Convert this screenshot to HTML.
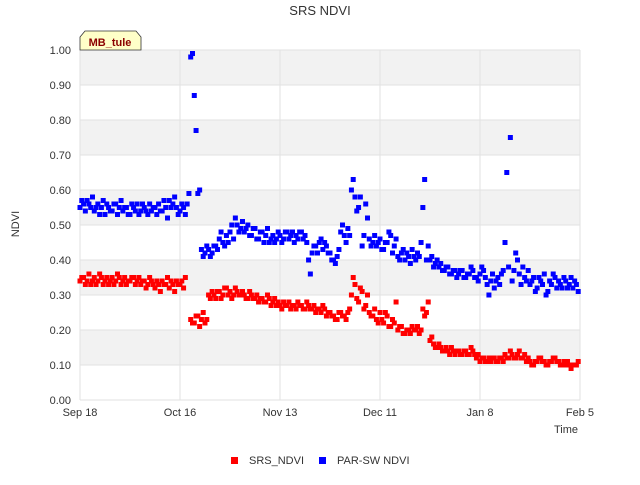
<!DOCTYPE html>
<html><head><meta charset="utf-8"><style>
body{margin:0;background:#fff;font-family:"Liberation Sans",sans-serif;}
svg text{font-family:"Liberation Sans",sans-serif;}
</style></head><body>
<svg id="chart" width="640" height="480">
<text x="320" y="15" text-anchor="middle" font-size="13" fill="#333">SRS NDVI</text>
<g id="bands"></g><g id="grid"></g><g id="ticks"></g><g id="pts"></g>
<g>
<path d="M80,50 L80,37 L85,31 L136,31 L141,37 L141,50 Z" fill="#ffffc8" stroke="#333" stroke-width="0.8"/>
<text x="110" y="46" text-anchor="middle" font-size="11" font-weight="bold" fill="#8b0000">MB_tule</text>
</g>
<text x="19" y="224" font-size="11" fill="#333" text-anchor="middle" transform="rotate(-90 19 224)">NDVI</text>
<text x="566" y="433" font-size="11" fill="#333" text-anchor="middle">Time</text>
<g><rect x="231" y="457" width="7" height="7" fill="#f00"/><text x="249" y="464" font-size="11" fill="#333">SRS_NDVI</text></g>
<g><rect x="319" y="457" width="7" height="7" fill="#00f"/><text x="337" y="464" font-size="11" fill="#333">PAR-SW NDVI</text></g>
</svg>
<script>
const xTickLabels=["Sep 18","Oct 16","Nov 13","Dec 11","Jan 8","Feb 5"];
const xTickDays=[0,28,56,84,112,140];
const yTicks=[0,0.1,0.2,0.3,0.4,0.5,0.6,0.7,0.8,0.9,1.0];
const srsA=[0.34,0.35,0.34,0.33,0.35,0.34,0.35,0.34,0.33,0.35,0.34,0.35,0.34,0.33,0.34,0.35,0.34,0.33,0.34,0.33,0.34,0.32,0.33,0.34,0.33,0.32,0.33,0.34,0.33,0.32,null,0.23,0.22,0.24,0.23,0.22,0.30,0.31,0.29,0.31,0.30,0.32,0.31,0.30,0.31,0.30,0.30,0.29,0.30,0.29,0.28,0.29,0.28,0.29,0.28,0.27,0.27,0.28,0.27,0.26,0.27,0.28,0.27,0.26,0.27,0.26,0.25,0.26,0.27,0.24,0.25,0.24,0.23,0.25,0.24,0.25,0.30,0.33,0.28,0.31,0.27,0.25,0.24,0.23,0.25,0.22,0.24,0.21,0.22,0.20,0.21,0.19,0.20,0.21,0.20,0.19,0.26,0.25,0.17,0.16,0.15,0.15,0.14,0.14,0.15,0.13,0.14,0.13,0.14,0.13,0.14,0.12,0.11,0.12,0.11,0.11,0.12,0.11,0.12,0.13,0.12,0.13,0.12,0.14,0.12,0.11,0.11,0.10,0.11,0.12,0.11,0.10,0.11,0.12,0.11,0.10,0.10,0.10,0.10,0.10];
const srsB=[0.35,0.33,0.36,0.34,0.33,0.36,0.33,0.35,0.34,0.33,0.36,0.33,0.35,0.34,0.35,0.33,0.35,0.34,0.32,0.35,0.33,0.34,0.31,0.33,0.35,0.34,0.31,0.33,0.34,0.35,null,0.22,0.24,0.21,0.25,0.23,0.29,0.30,0.31,0.29,0.32,0.30,0.29,0.32,0.30,0.31,0.29,0.31,0.29,0.30,0.29,0.28,0.30,0.27,0.29,0.28,0.26,0.27,0.28,0.27,0.26,0.27,0.26,0.28,0.26,0.27,0.26,0.25,0.26,0.25,0.24,0.23,0.25,0.24,0.23,0.26,0.35,0.29,0.32,0.26,0.30,0.24,0.26,0.22,0.23,0.25,0.21,0.23,0.28,0.21,0.19,0.20,0.19,0.20,0.21,0.20,0.24,0.28,0.18,0.15,0.16,0.14,0.15,0.13,0.14,0.14,0.13,0.14,0.13,0.15,0.13,0.13,0.12,0.11,0.12,0.12,0.11,0.12,0.11,0.12,0.14,0.12,0.13,0.12,0.13,0.12,0.10,0.11,0.12,0.11,0.10,0.11,0.12,0.11,0.10,0.11,0.11,0.09,0.10,0.11];
const parA=[0.55,0.56,0.57,0.55,0.54,0.56,0.55,0.53,0.55,0.54,0.56,0.55,0.54,0.55,0.53,0.55,0.56,0.54,0.55,0.53,0.54,0.55,0.56,0.54,0.55,0.57,0.56,0.55,0.54,0.55,0.56,0.98,0.87,0.59,0.43,0.42,0.43,0.42,0.44,0.46,0.45,0.47,0.48,0.46,0.50,0.49,0.48,0.50,0.47,0.49,0.46,0.48,0.47,0.45,0.47,0.46,0.47,0.46,0.48,0.47,0.45,0.46,0.48,0.47,0.40,0.42,0.44,0.45,0.43,0.44,0.42,0.40,0.41,0.48,0.47,0.49,0.60,0.58,0.55,0.44,0.56,0.46,0.45,0.44,0.46,0.43,0.45,0.47,0.44,0.41,0.42,0.40,0.41,0.43,0.40,0.41,0.55,0.40,0.40,0.38,0.40,0.39,0.37,0.38,0.36,0.37,0.36,0.37,0.35,0.36,0.37,0.35,0.36,0.37,0.33,0.34,0.32,0.35,0.36,0.45,0.38,0.34,0.42,0.36,0.38,0.34,0.33,0.35,0.32,0.34,0.36,0.31,0.33,0.35,0.34,0.32,0.34,0.33,0.32,0.33];
const parB=[0.57,0.54,0.56,0.58,0.55,0.53,0.57,0.56,0.54,0.56,0.53,0.57,0.55,0.53,0.56,0.54,0.53,0.56,0.54,0.56,0.55,0.53,0.54,0.57,0.52,0.55,0.58,0.53,0.56,0.53,0.59,0.99,0.77,0.60,0.41,0.44,0.41,0.44,0.43,0.48,0.44,0.45,0.50,0.52,0.48,0.51,0.49,0.47,0.49,0.46,0.48,0.45,0.49,0.46,0.45,0.48,0.45,0.48,0.46,0.48,0.47,0.48,0.46,0.45,0.36,0.44,0.42,0.46,0.45,0.42,0.40,0.39,0.43,0.50,0.45,0.47,0.63,0.54,0.58,0.47,0.52,0.44,0.47,0.45,0.43,0.45,0.48,0.42,0.46,0.40,0.43,0.42,0.39,0.41,0.42,0.45,0.63,0.44,0.41,0.39,0.38,0.37,0.38,0.36,0.37,0.35,0.37,0.35,0.36,0.38,0.35,0.34,0.38,0.35,0.30,0.36,0.34,0.33,0.37,0.65,0.75,0.37,0.40,0.33,0.35,0.37,0.34,0.31,0.35,0.33,0.30,0.34,0.36,0.32,0.33,0.35,0.32,0.35,0.34,0.31];
const NS="http://www.w3.org/2000/svg";
const X0=80,X1=580,Y0=400,Y1=50;
function xs(d){return X0+(X1-X0)*d/140;}
function ys(v){return Y0-(Y0-Y1)*v;}
function mk(t,a){const e=document.createElementNS(NS,t);for(const k in a)e.setAttribute(k,a[k]);return e;}
const bands=document.getElementById('bands'),grid=document.getElementById('grid'),ticks=document.getElementById('ticks'),pts=document.getElementById('pts');
const bg=mk('rect',{x:X0,y:Y1,width:X1-X0,height:Y0-Y1,fill:'#fff'});


bands.appendChild(bg);
for(let i=0;i<10;i++){if(i%2===1){const r=mk('rect',{x:X0,y:ys(yTicks[i+1]),width:X1-X0,height:ys(yTicks[i])-ys(yTicks[i+1]),fill:'#f2f2f2'});


bands.appendChild(r);}}
yTicks.forEach(v=>{const l=mk('line',{x1:X0,x2:X1,y1:ys(v),y2:ys(v),stroke:'#e2e2e2','stroke-width':1});


grid.appendChild(l);
const t=mk('text',{x:X0-9,y:ys(v)+4,'text-anchor':'end','font-size':11,fill:'#333'});t.textContent=v.toFixed(2);


ticks.appendChild(t);});
xTickDays.forEach((d,i)=>{const l=mk('line',{x1:xs(d),x2:xs(d),y1:Y1,y2:Y0,stroke:'#e2e2e2','stroke-width':1});


grid.appendChild(l);
const t=mk('text',{x:xs(d),y:Y0+16,'text-anchor':'middle','font-size':11,fill:'#333'});t.textContent=xTickLabels[i];


ticks.appendChild(t);});
function plot(arr,col,off,name){arr.forEach((v,i)=>{if(v==null)return;const r=mk('rect',{x:xs(i+off)-2.5,y:ys(v)-2.5,width:5,height:5,fill:col});


pts.appendChild(r);});}
plot(srsA,'#f00',0,'srs-point');plot(srsB,'#f00',0.5,'srs-point');
plot(parA,'#00f',0,'par-point');plot(parB,'#00f',0.5,'par-point');
</script>
</body></html>
